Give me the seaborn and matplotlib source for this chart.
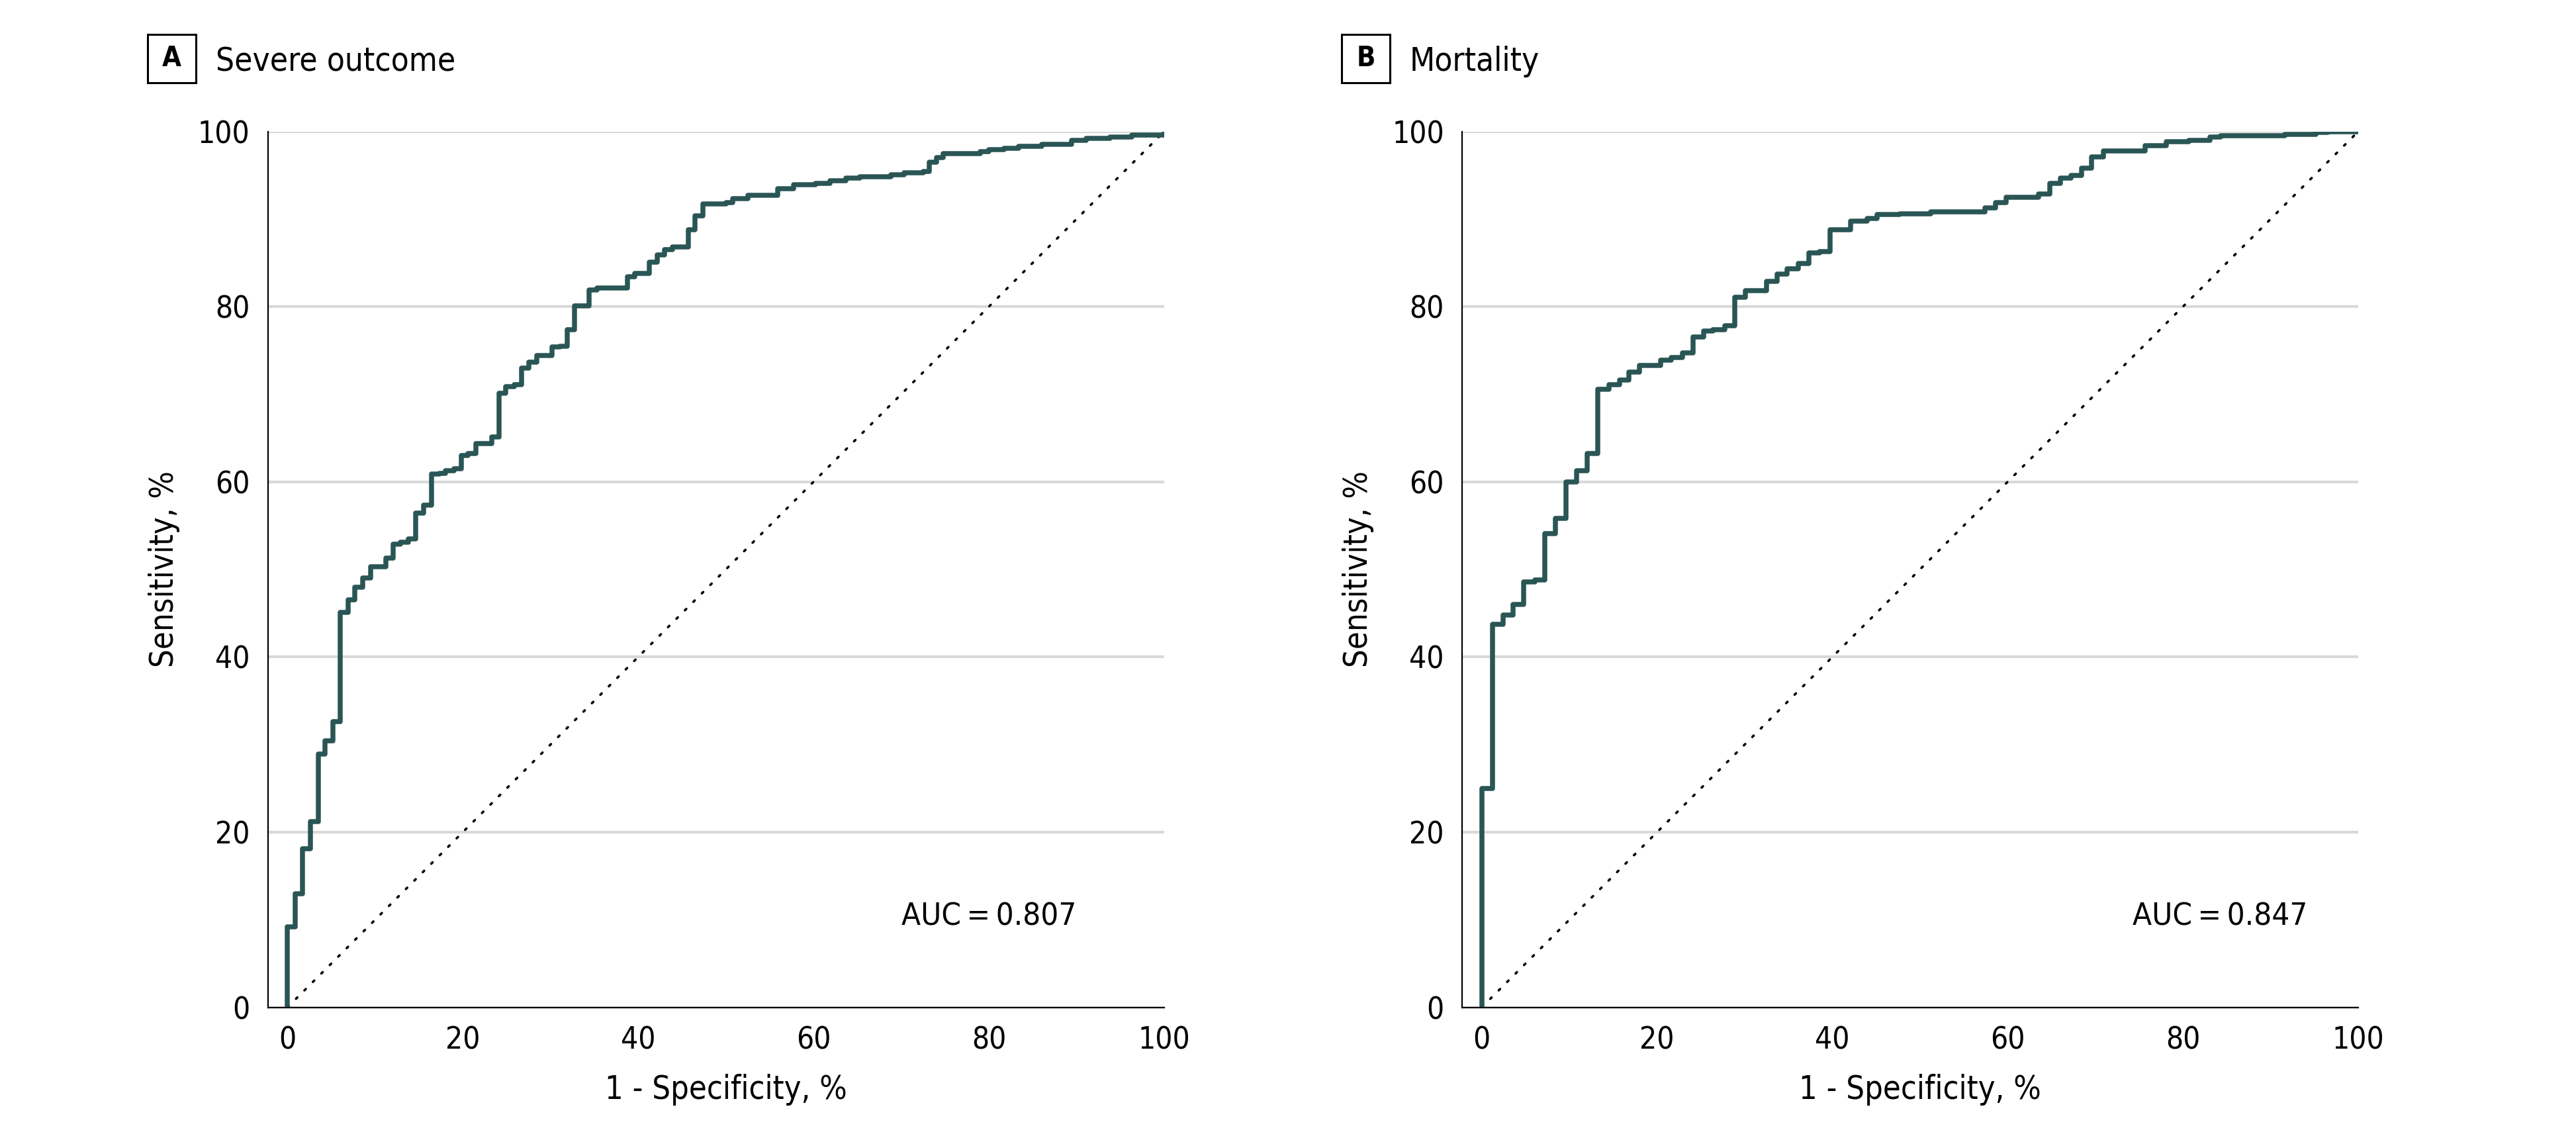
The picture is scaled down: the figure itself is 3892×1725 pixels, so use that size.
import matplotlib
matplotlib.use("Agg")
import matplotlib.pyplot as plt
from matplotlib import font_manager
from matplotlib.patches import Rectangle
import seaborn as sns

# ROC curve corners (1 - specificity, sensitivity), in %
fpr_severe = [0, 0, 0.84, 1.7, 2.6, 3.5, 4.3, 5.15, 6.0, 6.9, 7.7, 8.6, 9.5,
              11.2, 12.05, 12.9, 13.8, 14.6, 15.5, 16.4, 17.3, 18.0, 19.0,
              19.8, 20.6, 21.5, 23.3, 24.1, 24.9, 25.9, 26.7, 27.5, 28.4,
              30.2, 31.1, 31.9, 32.7, 34.4, 35.3, 38.1, 38.8, 39.6, 41.3,
              42.2, 43.0, 43.9, 45.7, 46.5, 47.4, 50.0, 50.8, 52.5, 55.9,
              57.7, 60.2, 61.9, 63.7, 65.3, 68.8, 70.3, 72.5, 73.2, 74.0,
              74.8, 79.0, 80.0, 81.7, 83.4, 86.0, 89.4, 91.1, 93.8, 96.3, 100]
tpr_severe = [0, 9.2, 13.0, 18.1, 21.2, 28.9, 30.4, 32.6, 45.1, 46.5, 48.0, 49.0, 50.3,
              51.3, 52.9, 53.1, 53.5, 56.4, 57.3, 60.9, 61.0, 61.3, 61.5,
              63.0, 63.2, 64.4, 65.1, 70.1, 70.9, 71.1, 73.0, 73.7, 74.4,
              75.4, 75.5, 77.4, 80.1, 81.9, 82.1, 82.15, 83.4, 83.8, 85.1,
              85.9, 86.5, 86.8, 88.8, 90.4, 91.7, 91.9, 92.3, 92.7, 93.5,
              93.9, 94.1, 94.4, 94.7, 94.8, 95.05, 95.25, 95.4, 96.5, 97.0,
              97.5, 97.7, 97.9, 98.1, 98.3, 98.5, 99.0, 99.2, 99.4, 99.6, 100]

fpr_mort = [0, 0, 1.25, 2.46, 3.6, 4.8, 6.06, 7.2, 8.4, 9.6,
            10.8, 12.05, 13.2, 14.5, 15.7, 16.8, 18.0, 20.4, 21.6, 22.9,
            24.1, 25.3, 26.4, 27.7, 28.9, 30.1, 32.5, 33.7, 34.8, 36.1,
            37.3, 38.55, 39.7, 42.1, 43.95, 45.1, 47.7, 51.2, 57.4, 58.6,
            59.8, 63.5, 64.8, 66.0, 67.2, 68.4, 69.6, 70.9, 75.7, 78.1,
            80.7, 83.1, 84.3, 91.6, 95.2, 96.5, 100]
tpr_mort = [0, 25.0, 43.7, 44.8, 46.0, 48.6, 48.8, 54.1, 55.8, 60.0,
            61.3, 63.2, 70.6, 71.1, 71.6, 72.5, 73.3, 73.9, 74.2, 74.7,
            76.5, 77.2, 77.4, 77.8, 81.1, 81.8, 82.9, 83.7, 84.3, 84.9,
            86.1, 86.3, 88.8, 89.8, 90.1, 90.5, 90.6, 90.8, 91.3, 91.9,
            92.5, 92.9, 94.1, 94.7, 95.0, 95.8, 97.1, 97.8, 98.4, 98.8,
            99.0, 99.4, 99.5, 99.7, 99.9, 100.0, 100]

chance = [0, 100]
ticks = [0, 20, 40, 60, 80, 100]

panels = [
    ("A", "Severe outcome", fpr_severe, tpr_severe, "AUC\u2009=\u20090.807", 80.0),
    ("B", "Mortality", fpr_mort, tpr_mort, "AUC\u2009=\u20090.847", 84.2),
]

sns.set_style("white")

# narrow sans like the journal font, whatever is around
fonts = font_manager.fontManager.ttflist
names = {f.name for f in fonts}
stretch = "normal"
if "Liberation Sans Narrow" in names:
    family = "Liberation Sans Narrow"
elif any(f.name == "DejaVu Sans" and f.stretch == "condensed" for f in fonts):
    family, stretch = "DejaVu Sans", "condensed"
else:
    family = "Roboto"
plt.rcParams['font.family'] = [family, 'DejaVu Sans']
plt.rcParams['font.stretch'] = stretch
plt.rcParams['text.color'] = 'black'
plt.rcParams['xtick.color'] = 'black'
plt.rcParams['ytick.color'] = 'black'

W, H = 3892, 1725
fig = plt.figure(figsize=(W / 100, H / 100), dpi=100)

line_color = "#2a5555"
axes_px = [(404.6, 1759.0), (2209.0, 3563.0)]   # spine .. x=100, in pixels
top_px, bottom_px = 198.6, 1521.5

for (letter, title, fpr, tpr, auc, auc_x), (l, r) in zip(panels, axes_px):
    ax = fig.add_axes([l / W, 1 - bottom_px / H, (r - l) / W, (bottom_px - top_px) / H])

    sns.lineplot(x=chance, y=chance, ax=ax, color="black", lw=2.6,
                 linestyle=(0, (0.8, 4.2)), dash_capstyle="round", estimator=None)
    sns.lineplot(x=fpr, y=tpr, ax=ax, color=line_color, lw=5.4,
                 drawstyle="steps-post", estimator=None, sort=False)

    ax.set_xlim(-2.25, 100)
    ax.set_ylim(0, 100)
    ax.set_xticks(ticks)
    ax.set_yticks(ticks)
    ax.set_xlabel("")
    ax.set_ylabel("")
    ax.yaxis.grid(True, color="#d9d9d9", lw=3)
    ax.xaxis.grid(False)
    ax.set_axisbelow(True)
    sns.despine(ax=ax)
    for s in ("left", "bottom"):
        ax.spines[s].set_linewidth(1.6)
        ax.spines[s].set_color("black")
    ax.tick_params(axis="both", which="major", direction="out", length=11.5,
                   width=1.6, color="black", labelsize=33, pad=8)
    ax.tick_params(axis="x", pad=9)

    ax.text(auc_x, 10.3, auc, ha="center", va="center", fontsize=34)

    # panel label box and title
    x0 = l - 182.0
    fig.patches.append(Rectangle((x0 / W, 1 - 125 / H), 73 / W, 73 / H,
                                 transform=fig.transFigure, fill=False,
                                 ec="black", lw=2.2))
    fig.text((x0 + 36.5) / W, 1 - 88.5 / H, letter, ha="center", va="center",
             fontsize=30, fontweight="bold")
    fig.text((x0 + 103) / W, 1 - 107 / H, title, ha="left", va="baseline",
             fontsize=35.5)

    # axis labels
    x_mid = (l + 29.6 + r) / 2
    fig.text(x_mid / W, 1 - 1646 / H, "1 - Specificity, %", ha="center",
             va="center", fontsize=35)
    fig.text((l - 157) / W, 1 - 860 / H, "Sensitivity, %", ha="center",
             va="center", rotation=90, fontsize=35)

fig.savefig("out.png", dpi=100, facecolor="white")
